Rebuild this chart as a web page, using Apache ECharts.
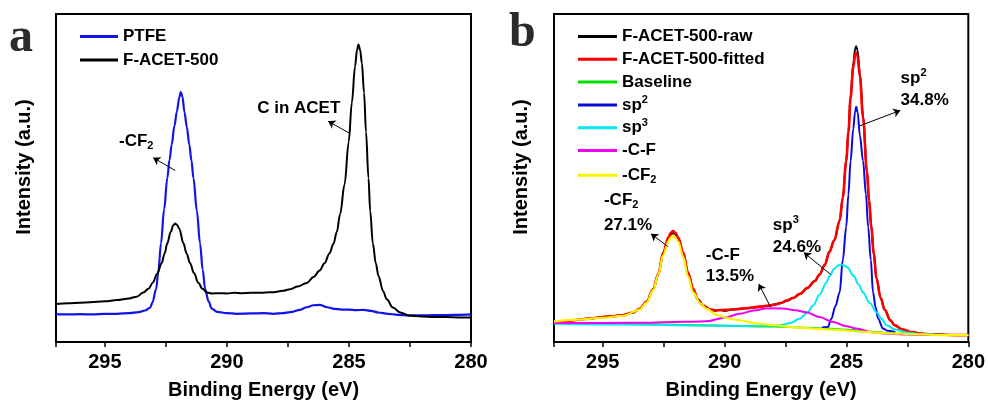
<!DOCTYPE html>
<html>
<head>
<meta charset="utf-8">
<script src="https://cdn.jsdelivr.net/npm/echarts@6/dist/echarts.min.js"></script>
<style>
html, body { margin: 0; padding: 0; background: #fff; }
#main { width: 988px; height: 405px; }
</style>
</head>
<body>
<div id="main"></div>
<script>
// C 1s XPS spectra: (a) PTFE vs F-ACET-500, (b) peak fitting of F-ACET-500
const energyTicks = [280, 285, 290, 295];

// Panel a: [binding energy (eV), intensity (a.u.)]
const ptfe = [[297.0,8.5],[296.5,8.4],[296.0,8.5],[295.5,8.4],[295.0,8.6],[294.5,8.6],[294.0,8.8],[293.6,9.1],[293.35,9.6],[293.15,10.4],[293.05,12.0],[292.9,16.1],[292.8,22.0],[292.7,30.1],[292.57,40.5],[292.44,50.0],[292.35,55.5],[292.26,60.2],[292.15,65.8],[292.05,70.2],[291.95,74.5],[291.89,76.2],[291.82,74.8],[291.74,70.2],[291.64,65.5],[291.54,60.2],[291.45,55.3],[291.37,50.0],[291.23,40.0],[291.1,30.1],[290.99,22.0],[290.89,16.1],[290.75,12.4],[290.62,10.2],[290.4,9.2],[290.0,8.8],[289.6,8.6],[289.0,8.7],[288.5,8.8],[288.1,8.6],[287.7,8.8],[287.4,9.1],[287.0,9.8],[286.73,10.6],[286.45,11.2],[286.2,11.3],[285.9,10.6],[285.6,10.1],[285.3,9.9],[285.0,9.9],[284.7,9.7],[284.4,9.8],[284.1,9.5],[283.8,9.0],[283.4,8.6],[283.0,8.3],[282.5,8.1],[282.0,8.1],[281.5,8.2],[281.0,8.2],[280.5,8.3],[280.0,8.4]];

const facet500 = [[297.0,11.6],[296.5,11.8],[296.0,12.0],[295.6,12.1],[295.0,12.4],[294.5,12.8],[294.0,13.3],[293.7,13.8],[293.42,15.1],[293.2,16.3],[293.04,18.1],[292.85,20.8],[292.67,24.1],[292.55,27.0],[292.44,30.1],[292.3,33.6],[292.2,35.5],[292.12,36.1],[292.03,35.6],[291.95,34.5],[291.78,30.1],[291.65,27.0],[291.51,24.1],[291.35,21.0],[291.17,18.1],[291.0,16.2],[290.82,15.1],[290.6,14.8],[290.3,14.9],[290.0,14.8],[289.7,15.0],[289.4,14.9],[289.0,15.0],[288.7,15.0],[288.4,15.1],[288.1,15.2],[287.7,15.6],[287.41,16.1],[287.1,16.9],[286.73,18.0],[286.45,19.8],[286.2,21.8],[286.0,24.0],[285.8,27.0],[285.63,30.0],[285.5,33.5],[285.36,39.0],[285.18,48.0],[285.01,61.0],[284.88,73.0],[284.75,84.0],[284.67,89.0],[284.61,90.7],[284.54,89.0],[284.47,85.0],[284.38,76.0],[284.3,64.0],[284.2,50.0],[284.13,40.0],[284.02,30.0],[283.9,24.0],[283.79,20.1],[283.6,15.5],[283.45,13.0],[283.2,10.5],[282.9,9.0],[282.5,8.0],[282.0,7.8],[281.5,7.6],[281.0,7.6],[280.5,7.5],[280.0,7.5]];

// Panel b: measured spectrum, fitted envelope, baseline and components
const rawB = [[297.0,6.1],[296.5,6.4],[296.0,6.8],[295.5,7.2],[295.0,7.6],[294.5,7.9],[294.16,8.2],[293.8,8.9],[293.48,10.1],[293.2,12.3],[292.93,16.1],[292.72,20.5],[292.52,27.1],[292.3,31.5],[292.2,32.8],[292.11,33.3],[292.02,32.8],[291.9,31.5],[291.7,27.1],[291.5,21.0],[291.29,16.1],[291.1,13.0],[290.88,11.1],[290.6,9.9],[290.4,9.5],[290.2,9.8],[290.0,9.5],[289.7,9.9],[289.38,10.1],[289.1,10.3],[288.8,10.5],[288.5,10.8],[288.2,11.0],[288.0,11.4],[287.7,11.8],[287.45,12.6],[287.2,13.4],[286.9,14.7],[286.6,16.5],[286.3,18.6],[286.1,20.6],[285.89,23.5],[285.7,27.5],[285.5,31.0],[285.28,37.0],[285.15,44.0],[285.01,55.2],[284.92,64.0],[284.83,75.2],[284.72,85.0],[284.64,89.5],[284.6,90.2],[284.55,89.0],[284.45,82.0],[284.32,69.0],[284.16,52.0],[284.07,43.0],[283.98,35.1],[283.88,27.0],[283.77,19.5],[283.6,13.5],[283.43,9.8],[283.2,6.6],[283.02,5.1],[282.7,3.8],[282.3,3.0],[282.0,2.6],[281.5,2.3],[281.0,2.2],[280.5,2.1],[280.0,2.1]];

const fittedB = [[297.0,6.0],[296.5,6.4],[296.0,6.8],[295.5,7.2],[295.0,7.6],[294.5,7.9],[294.16,8.2],[293.8,8.9],[293.48,10.1],[293.2,12.3],[292.93,16.1],[292.72,20.7],[292.52,27.3],[292.3,32.0],[292.2,33.4],[292.11,33.8],[292.02,33.3],[291.9,31.8],[291.7,27.3],[291.5,21.2],[291.29,16.2],[291.1,13.0],[290.88,11.1],[290.6,10.0],[290.4,9.7],[290.2,9.7],[290.0,9.8],[289.7,9.9],[289.38,10.1],[289.1,10.3],[288.8,10.6],[288.5,10.8],[288.2,11.1],[288.0,11.3],[287.7,11.9],[287.45,12.6],[287.2,13.4],[286.9,14.7],[286.6,16.5],[286.3,18.6],[286.1,20.6],[285.89,23.5],[285.7,27.5],[285.5,31.0],[285.28,37.0],[285.15,44.0],[285.01,55.2],[284.92,64.0],[284.83,74.5],[284.72,83.8],[284.64,87.6],[284.6,88.2],[284.55,87.2],[284.45,81.0],[284.32,68.5],[284.16,51.8],[284.07,43.0],[283.98,35.1],[283.88,27.0],[283.77,19.5],[283.6,13.5],[283.43,9.8],[283.2,6.6],[283.02,5.1],[282.7,3.8],[282.3,3.0],[282.0,2.6],[281.5,2.3],[281.0,2.2],[280.5,2.1],[280.0,2.1]];

const baselineB = [[297.0,5.8],[294.0,5.5],[291.0,5.1],[288.0,4.7],[286.0,4.2],[285.0,3.7],[284.0,3.1],[283.0,2.6],[282.0,2.3],[281.0,2.1],[280.0,2.1]];

const sp2B = [[286.0,4.4],[285.76,4.6],[285.62,7.1],[285.45,11.0],[285.28,15.1],[285.15,25.0],[285.01,35.1],[284.92,45.0],[284.83,55.2],[284.72,65.0],[284.65,70.0],[284.6,71.7],[284.54,70.0],[284.45,63.0],[284.32,55.2],[284.2,45.0],[284.11,35.1],[284.0,25.0],[283.91,15.1],[283.8,10.5],[283.7,7.1],[283.5,4.1],[283.3,3.4],[283.0,3.0]];

const sp3B = [[297.0,5.6],[294.0,5.3],[291.0,5.0],[289.0,4.9],[288.2,5.0],[287.74,5.1],[287.3,5.8],[286.92,7.1],[286.6,9.0],[286.37,11.1],[286.1,14.5],[285.83,18.1],[285.69,20.1],[285.5,22.3],[285.35,23.3],[285.21,23.6],[285.05,23.2],[284.95,22.6],[284.7,20.1],[284.5,17.5],[284.32,15.1],[284.05,12.0],[283.77,9.1],[283.55,7.0],[283.36,5.1],[283.0,3.8],[282.54,2.9],[282.0,2.4],[281.0,2.1],[280.0,2.1]];

const cfB = [[297.0,5.8],[295.0,5.8],[293.0,5.9],[292.1,6.1],[291.3,6.2],[290.74,6.3],[290.0,7.4],[289.38,8.6],[288.8,9.6],[288.3,10.2],[288.01,10.3],[287.6,10.2],[287.1,9.7],[286.65,9.1],[286.1,7.6],[285.55,6.1],[285.0,4.8],[284.6,4.1],[283.91,2.9],[283.2,2.5],[282.5,2.3],[281.5,2.1],[280.0,2.1]];

const cf2B = [[297.0,6.3],[296.0,6.8],[295.0,7.4],[294.16,8.0],[293.48,9.9],[293.2,12.0],[292.93,15.8],[292.72,20.5],[292.52,26.5],[292.3,30.8],[292.2,32.0],[292.11,32.3],[292.02,31.8],[291.9,30.5],[291.7,26.0],[291.5,20.0],[291.29,15.1],[291.0,11.8],[290.74,10.1],[290.3,8.2],[289.9,7.3],[289.38,6.6],[288.7,5.7],[288.01,5.1],[287.0,4.4],[286.0,3.9],[285.28,3.6],[284.3,3.1],[283.23,2.6],[282.0,2.3],[281.0,2.1],[280.0,2.1]];

const FONT = '"Liberation Sans", Arial, sans-serif';

const richTokens = {
  sup: { fontSize: 11, fontWeight: 'bold', color: '#000', fontFamily: FONT, lineHeight: 13, padding: [0, 0, 8, 0], verticalAlign: 'top' },
  sub: { fontSize: 11, fontWeight: 'bold', color: '#000', fontFamily: FONT, lineHeight: 9, padding: [12, 0, 0, 0], verticalAlign: 'bottom' }
};

const displayNames = {
  'sp2': 'sp{sup|2}',
  'sp3': 'sp{sup|3}',
  '-CF2': '-CF{sub|2}'
};

const textBase = { fontSize: 17, fontWeight: 'bold', color: '#000', fontFamily: FONT, lineHeight: 21, rich: richTokens };

function makeGrid(left) {
  return { left: left, top: 14, width: 415, height: 333, show: true, borderColor: '#000', borderWidth: 2, backgroundColor: 'transparent' };
}

function makeX(idx) {
  return {
    gridIndex: idx, type: 'value', min: 280, max: 297, interval: 2.5, inverse: true,
    name: 'Binding Energy (eV)', nameLocation: 'middle', nameGap: 38,
    nameTextStyle: { fontSize: 20, fontWeight: 'bold', color: '#000', fontFamily: FONT },
    axisLine: { show: true, lineStyle: { color: '#000', width: 2 } },
    axisTick: { show: true, inside: false, length: 5, lineStyle: { color: '#000', width: 1.5 } },
    axisLabel: {
      margin: 10, fontSize: 20, fontWeight: 'bold', color: '#000', fontFamily: FONT,
      formatter: v => energyTicks.includes(v) ? String(v) : '',
      showMinLabel: true, showMaxLabel: true
    },
    splitLine: { show: false }
  };
}

function makeY(idx) {
  return {
    gridIndex: idx, type: 'value', min: 0, max: 100,
    axisLine: { show: true, lineStyle: { color: '#000', width: 2 } },
    axisTick: { show: false }, axisLabel: { show: false }, splitLine: { show: false }
  };
}

function lineSeries(name, data, color, width, idx, extra) {
  return Object.assign({
    name: name, type: 'line', data: data, xAxisIndex: idx, yAxisIndex: idx,
    showSymbol: false, symbol: 'none', smooth: 0.35, smoothMonotone: 'x',
    lineStyle: { color: color, width: width }, itemStyle: { color: color },
    emphasis: { disabled: true }, silent: true
  }, extra || {});
}

function arrows(pairs) {
  return {
    silent: true, symbol: ['none', 'arrow'], symbolSize: 7,
    label: { show: false }, emphasis: { disabled: true },
    lineStyle: { color: '#000', width: 1, type: 'solid' },
    data: pairs.map(p => [{ coord: p[0] }, { coord: p[1] }])
  };
}

function notes(items) {
  return {
    silent: true, symbol: 'circle', symbolSize: 0,
    itemStyle: { color: 'transparent' },
    label: Object.assign({ show: true, position: 'right', distance: 0 }, textBase),
    data: items.map(it => ({ coord: it[0], value: 0, label: { formatter: it[1] } }))
  };
}

const chart = echarts.init(document.getElementById('main'), null, { renderer: 'canvas' });

chart.setOption({
  animation: false,
  backgroundColor: '#fff',
  grid: [makeGrid(56), makeGrid(554)],
  xAxis: [makeX(0), makeX(1)],
  yAxis: [makeY(0), makeY(1)],
  legend: [
    {
      data: ['PTFE', 'F-ACET-500'], orient: 'vertical', left: 75, top: 21,
      icon: 'rect', itemWidth: 38, itemHeight: 3, itemGap: 2.5, selectedMode: false,
      textStyle: textBase
    },
    {
      data: ['F-ACET-500-raw', 'F-ACET-500-fitted', 'Baseline', 'sp2', 'sp3', '-C-F', '-CF2'],
      orient: 'vertical', left: 573, top: 21,
      icon: 'rect', itemWidth: 39, itemHeight: 3, itemGap: 1.8, selectedMode: false,
      formatter: name => displayNames[name] || name,
      textStyle: textBase
    }
  ],
  graphic: [
    { type: 'text', style: { x: 9, y: 63, text: 'a', font: 'bold 48px "Liberation Serif", "DejaVu Serif", serif', fill: '#2b2b2b', verticalAlign: 'bottom' } },
    { type: 'text', style: { x: 509, y: 58, text: 'b', font: 'bold 48px "Liberation Serif", "DejaVu Serif", serif', fill: '#2b2b2b', verticalAlign: 'bottom' } },
    { type: 'text', x: 24, y: 167, rotation: Math.PI / 2, style: { x: 0, y: 0, text: 'Intensity (a.u.)', font: 'bold 20px ' + FONT, fill: '#000', align: 'center', verticalAlign: 'middle' } },
    { type: 'text', x: 521.5, y: 167, rotation: Math.PI / 2, style: { x: 0, y: 0, text: 'Intensity (a.u.)', font: 'bold 20px ' + FONT, fill: '#000', align: 'center', verticalAlign: 'middle' } }
  ],
  series: [
    lineSeries('PTFE', ptfe, '#1414e6', 2.2, 0),
    lineSeries('F-ACET-500', facet500, '#000000', 2, 0, {
      markLine: arrows([
        [[292.12, 52.3], [293.02, 56.2]],
        [[284.99, 63.7], [285.85, 67.3]]
      ]),
      markPoint: notes([
        [[294.42, 61.3], '-CF{sub|2}'],
        [[288.76, 71.2], 'C in ACET']
      ])
    }),
    lineSeries('F-ACET-500-raw', rawB, '#000000', 2, 1),
    lineSeries('F-ACET-500-fitted', fittedB, '#ff0000', 2.6, 1),
    lineSeries('Baseline', baselineB, '#00e000', 2, 1),
    lineSeries('sp2', sp2B, '#0a0adc', 2, 1),
    lineSeries('sp3', sp3B, '#00e8f0', 2, 1),
    lineSeries('-C-F', cfB, '#f000f0', 2, 1),
    lineSeries('-CF2', cf2B, '#f5f500', 2.2, 1, {
      markLine: arrows([
        [[292.33, 29.1], [293.02, 33.0]],
        [[288.11, 10.6], [288.60, 17.7]],
        [[285.65, 20.6], [286.75, 27.3]],
        [[284.46, 65.9], [282.79, 70.6]]
      ]),
      markPoint: notes([
        [[294.95, 43.2], '-CF{sub|2}'],
        [[294.95, 35.7], '27.1%'],
        [[290.77, 26.4], '-C-F'],
        [[290.77, 20.1], '13.5%'],
        [[288.02, 35.7], 'sp{sup|3}'],
        [[288.02, 29.0], '24.6%'],
        [[282.78, 80.5], 'sp{sup|2}'],
        [[282.78, 73.6], '34.8%']
      ])
    })
  ]
});
</script>
</body>
</html>
